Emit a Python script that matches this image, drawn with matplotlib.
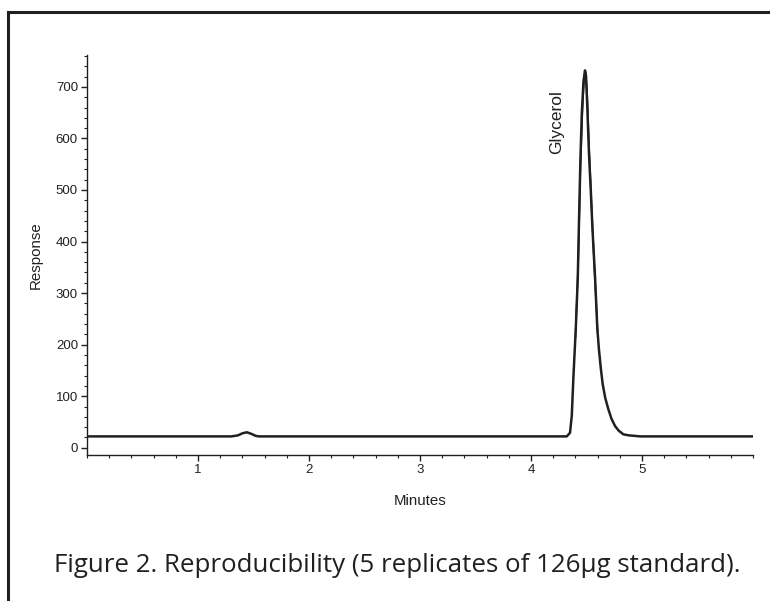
import matplotlib
matplotlib.use("Agg")
import matplotlib.pyplot as plt
from matplotlib.lines import Line2D
from matplotlib.ticker import MultipleLocator

plt.rcParams["font.family"] = ["Liberation Sans", "DejaVu Sans"]

# chromatogram trace (minutes, response)
minutes = [0.0, 1.30, 1.36, 1.40, 1.44, 1.48, 1.52, 1.55,
           4.322, 4.351, 4.367, 4.381, 4.403, 4.421, 4.432, 4.445, 4.457, 4.472, 4.486,
           4.495, 4.507, 4.522, 4.538, 4.553, 4.577, 4.597, 4.612, 4.628, 4.645, 4.668,
           4.696, 4.725, 4.757, 4.79, 4.832, 4.88, 4.937, 4.982, 6.0]
response = [22, 22, 24, 28, 30, 27, 23, 22,
            22, 29, 62, 134, 231, 329, 440, 560, 647, 710, 732,
            722, 660, 570, 500, 426, 329, 231, 190, 155, 124, 97,
            75, 56, 42, 33, 26, 24, 23, 22, 22]

# second replicate, visible only around the apex
minutes_b = [4.40, 4.425, 4.445, 4.465, 4.480, 4.492, 4.505, 4.52, 4.545, 4.57, 4.60]
response_b = [215, 360, 545, 665, 720, 728, 690, 600, 470, 350, 225]

ink = "#231f20"

fig = plt.figure(figsize=(7.7, 6.01), dpi=100)
ax = fig.add_axes([0.113, 0.243, 0.865, 0.6656])

ax.plot(minutes, response, color=ink, lw=1.8)
ax.plot(minutes_b, response_b, color=ink, lw=1.2)

ax.set_xlim(0, 6)
ax.set_ylim(-14, 762)
ax.set_xticks([1, 2, 3, 4, 5])
ax.xaxis.set_minor_locator(MultipleLocator(0.2))
ax.set_yticks(range(0, 800, 100))
ax.yaxis.set_minor_locator(MultipleLocator(20))

for side in ["top", "right"]:
    ax.spines[side].set_visible(False)
for side in ["left", "bottom"]:
    ax.spines[side].set_color(ink)
    ax.spines[side].set_linewidth(1.0)

ax.tick_params(which="major", length=4.5, width=1.0, color=ink, labelsize=9.5,
               labelcolor=ink, pad=2)
ax.tick_params(which="minor", length=2.5, width=0.8, color=ink)

ax.set_xlabel("Minutes", fontsize=10.8, color=ink, labelpad=13)
ax.set_ylabel("Response", fontsize=10.8, color=ink, labelpad=9)

ax.text(4.234, 631, "Glycerol", rotation=90, ha="center", va="center",
        fontsize=12.5, color=ink)

# frame lines on the left and top of the figure
fig.add_artist(Line2D([8 / 770, 8 / 770], [0, 1 - 12 / 601], color=ink, lw=2.2,
                      transform=fig.transFigure))
fig.add_artist(Line2D([8 / 770, 1], [1 - 12 / 601, 1 - 12 / 601], color=ink, lw=2.2,
                      transform=fig.transFigure))

fig.text(397 / 770, 1 - 566 / 601, "Figure 2. Reproducibility (5 replicates of 126\u00b5g standard).",
         ha="center", va="center", fontsize=18.6, family="Open Sans", color=ink)

fig.savefig("out.png", dpi=100)
